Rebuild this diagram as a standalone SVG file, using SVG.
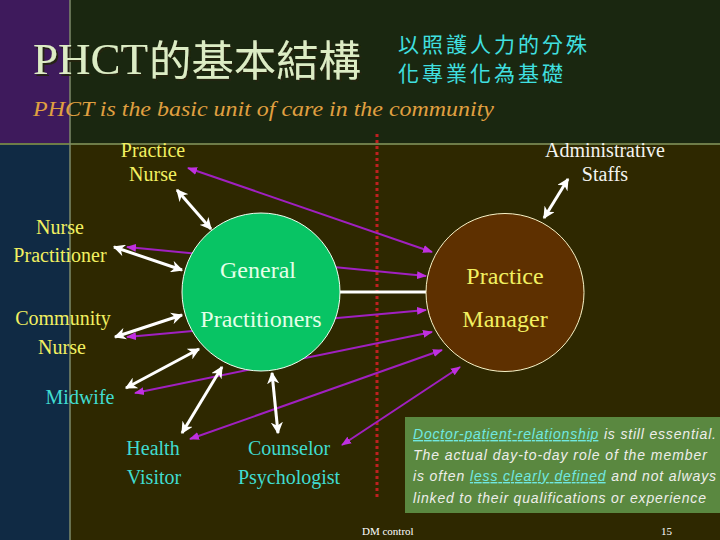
<svg xmlns="http://www.w3.org/2000/svg" width="720" height="540" viewBox="0 0 720 540">
<defs>
<style>
.lbl{font-family:"Liberation Serif","Noto Sans CJK TC",serif;font-size:20px;text-anchor:middle}
.big{font-family:"Liberation Serif",serif;font-size:24px;text-anchor:middle}
.yel{fill:#f2f060}
.cya{fill:#40dcd0}
.wht{fill:#f4f4f0}
.wl{stroke:#ffffff;stroke-width:3;fill:none;marker-start:url(#wa);marker-end:url(#wa)}
.ml{stroke:#a020c0;stroke-width:2;fill:none;marker-start:url(#ma);marker-end:url(#ma)}
.box{font-family:"Liberation Sans",sans-serif;font-style:italic;font-size:14px;fill:#eeeeea}
.ul{fill:#70e8e0;text-decoration:underline}
.ttl{font-family:"Liberation Serif",serif;font-size:44px;fill:#dcecc4}
.cjk{font-family:"Noto Sans CJK TC",sans-serif;font-size:42px;fill:#dcecc4}
.sub{font-family:"Noto Sans CJK TC",sans-serif;font-size:21px;fill:#40e0e0;letter-spacing:3px}
.tag{font-family:"Liberation Serif",serif;font-style:italic;font-size:22px;fill:#e0a040}
.ft{font-family:"Liberation Serif",serif;font-size:11px;fill:#ffffff}
</style>
<filter id="sh" x="-5%" y="-20%" width="110%" height="140%">
<feDropShadow dx="2" dy="2" stdDeviation="0.6" flood-color="#202010" flood-opacity="0.9"/>
</filter>
<marker id="wa" viewBox="0 0 10 10" refX="9" refY="5" markerWidth="12" markerHeight="12" markerUnits="userSpaceOnUse" orient="auto-start-reverse">
<path d="M0,0 L10,5 L0,10 L3,5 Z" fill="#ffffff"/>
</marker>
<marker id="ma" viewBox="0 0 10 10" refX="9" refY="5" markerWidth="10" markerHeight="10" markerUnits="userSpaceOnUse" orient="auto-start-reverse">
<path d="M0,1 L10,5 L0,9 Z" fill="#c030e0"/>
</marker>
</defs>
<g id="background">
<rect x="0" y="0" width="720" height="540" fill="#2e2800"/>
<rect x="0" y="0" width="70" height="144" fill="#3e1a5c"/>
<rect x="70" y="0" width="650" height="144" fill="#1a2710"/>
<rect x="0" y="144" width="70" height="396" fill="#102a44"/>
<line x1="0" y1="144" x2="720" y2="144" stroke="#6e7c48" stroke-width="2"/>
<line x1="70" y1="0" x2="70" y2="540" stroke="#7c8a68" stroke-width="1.5"/>
</g>
<g id="title">
<text class="ttl" x="33" y="74" filter="url(#sh)" textLength="115" lengthAdjust="spacingAndGlyphs">PHCT</text>
<text class="cjk" x="149" y="76" filter="url(#sh)" textLength="212" lengthAdjust="spacingAndGlyphs">的基本結構</text>
<text class="sub" x="398" y="52">以照護人力的分殊</text>
<text class="sub" x="398" y="81">化專業化為基礎</text>
<text class="tag" x="33" y="116" textLength="461" lengthAdjust="spacingAndGlyphs">PHCT is the basic unit of care in the community</text>
</g>
<line id="divider" x1="377" y1="134" x2="377" y2="497" stroke="#c02020" stroke-width="3" stroke-dasharray="3,3"/>
<g id="connectors">
<line class="ml" x1="188" y1="168" x2="432" y2="252"/>
<line class="ml" x1="127" y1="247" x2="426" y2="276"/>
<line class="ml" x1="127" y1="337" x2="426" y2="310"/>
<line class="ml" x1="135" y1="393" x2="432" y2="332"/>
<line class="ml" x1="190" y1="439" x2="442" y2="350"/>
<line class="ml" x1="342" y1="445" x2="460" y2="367"/>
<line x1="340" y1="292" x2="426" y2="292" stroke="#ffffff" stroke-width="3"/>
<line class="wl" x1="177" y1="190" x2="211" y2="229"/>
<line class="wl" x1="114" y1="247" x2="182" y2="270"/>
<line class="wl" x1="115" y1="337" x2="182" y2="315"/>
<line class="wl" x1="126" y1="388" x2="199" y2="349"/>
<line class="wl" x1="182" y1="433" x2="222" y2="367"/>
<line class="wl" x1="278" y1="433" x2="272" y2="373"/>
<line class="wl" x1="568" y1="179" x2="544" y2="218"/>
</g>
<g id="gp">
<circle cx="261" cy="292" r="79" fill="#08c464" stroke="#f0fff0" stroke-width="1"/>
<text class="big" x="258" y="278" fill="#e4ffe8">General</text>
<text class="big" x="261" y="327" fill="#e4ffe8">Practitioners</text>
</g>
<g id="pm">
<circle cx="505" cy="292.5" r="79" fill="#5e3000" stroke="#f8f4c8" stroke-width="1"/>
<text class="big yel" x="505" y="284">Practice</text>
<text class="big yel" x="505" y="327">Manager</text>
</g>
<g id="practice-nurse">
<text class="lbl yel" x="153" y="157">Practice</text>
<text class="lbl yel" x="153" y="181">Nurse</text>
</g>
<g id="admin-staffs">
<text class="lbl wht" x="605" y="157">Administrative</text>
<text class="lbl wht" x="605" y="181">Staffs</text>
</g>
<g id="nurse-practitioner">
<text class="lbl yel" x="60" y="234">Nurse</text>
<text class="lbl yel" x="60" y="262">Practitioner</text>
</g>
<g id="community-nurse">
<text class="lbl yel" x="63" y="325">Community</text>
<text class="lbl yel" x="62" y="354">Nurse</text>
</g>
<g id="midwife">
<text class="lbl cya" x="80" y="404">Midwife</text>
</g>
<g id="health-visitor">
<text class="lbl cya" x="153" y="455">Health</text>
<text class="lbl cya" x="154" y="484">Visitor</text>
</g>
<g id="counselor">
<text class="lbl cya" x="289" y="455">Counselor</text>
<text class="lbl cya" x="289" y="484">Psychologist</text>
</g>
<g id="note">
<rect x="405" y="417" width="315" height="96" fill="#5a8840"/>
<text class="box" x="413" y="439" textLength="303" lengthAdjust="spacing"><tspan class="ul">Doctor-patient-relationship</tspan> is still essential.</text>
<text class="box" x="413" y="460" textLength="294" lengthAdjust="spacing">The actual day-to-day role of the member</text>
<text class="box" x="413" y="481" textLength="303" lengthAdjust="spacing">is often <tspan class="ul">less clearly defined</tspan> and not always</text>
<text class="box" x="413" y="503" textLength="293" lengthAdjust="spacing">linked to their qualifications or experience</text>
</g>
<g id="footer">
<text class="ft" x="362" y="535">DM control</text>
<text class="ft" x="661" y="535">15</text>
</g>
</svg>
